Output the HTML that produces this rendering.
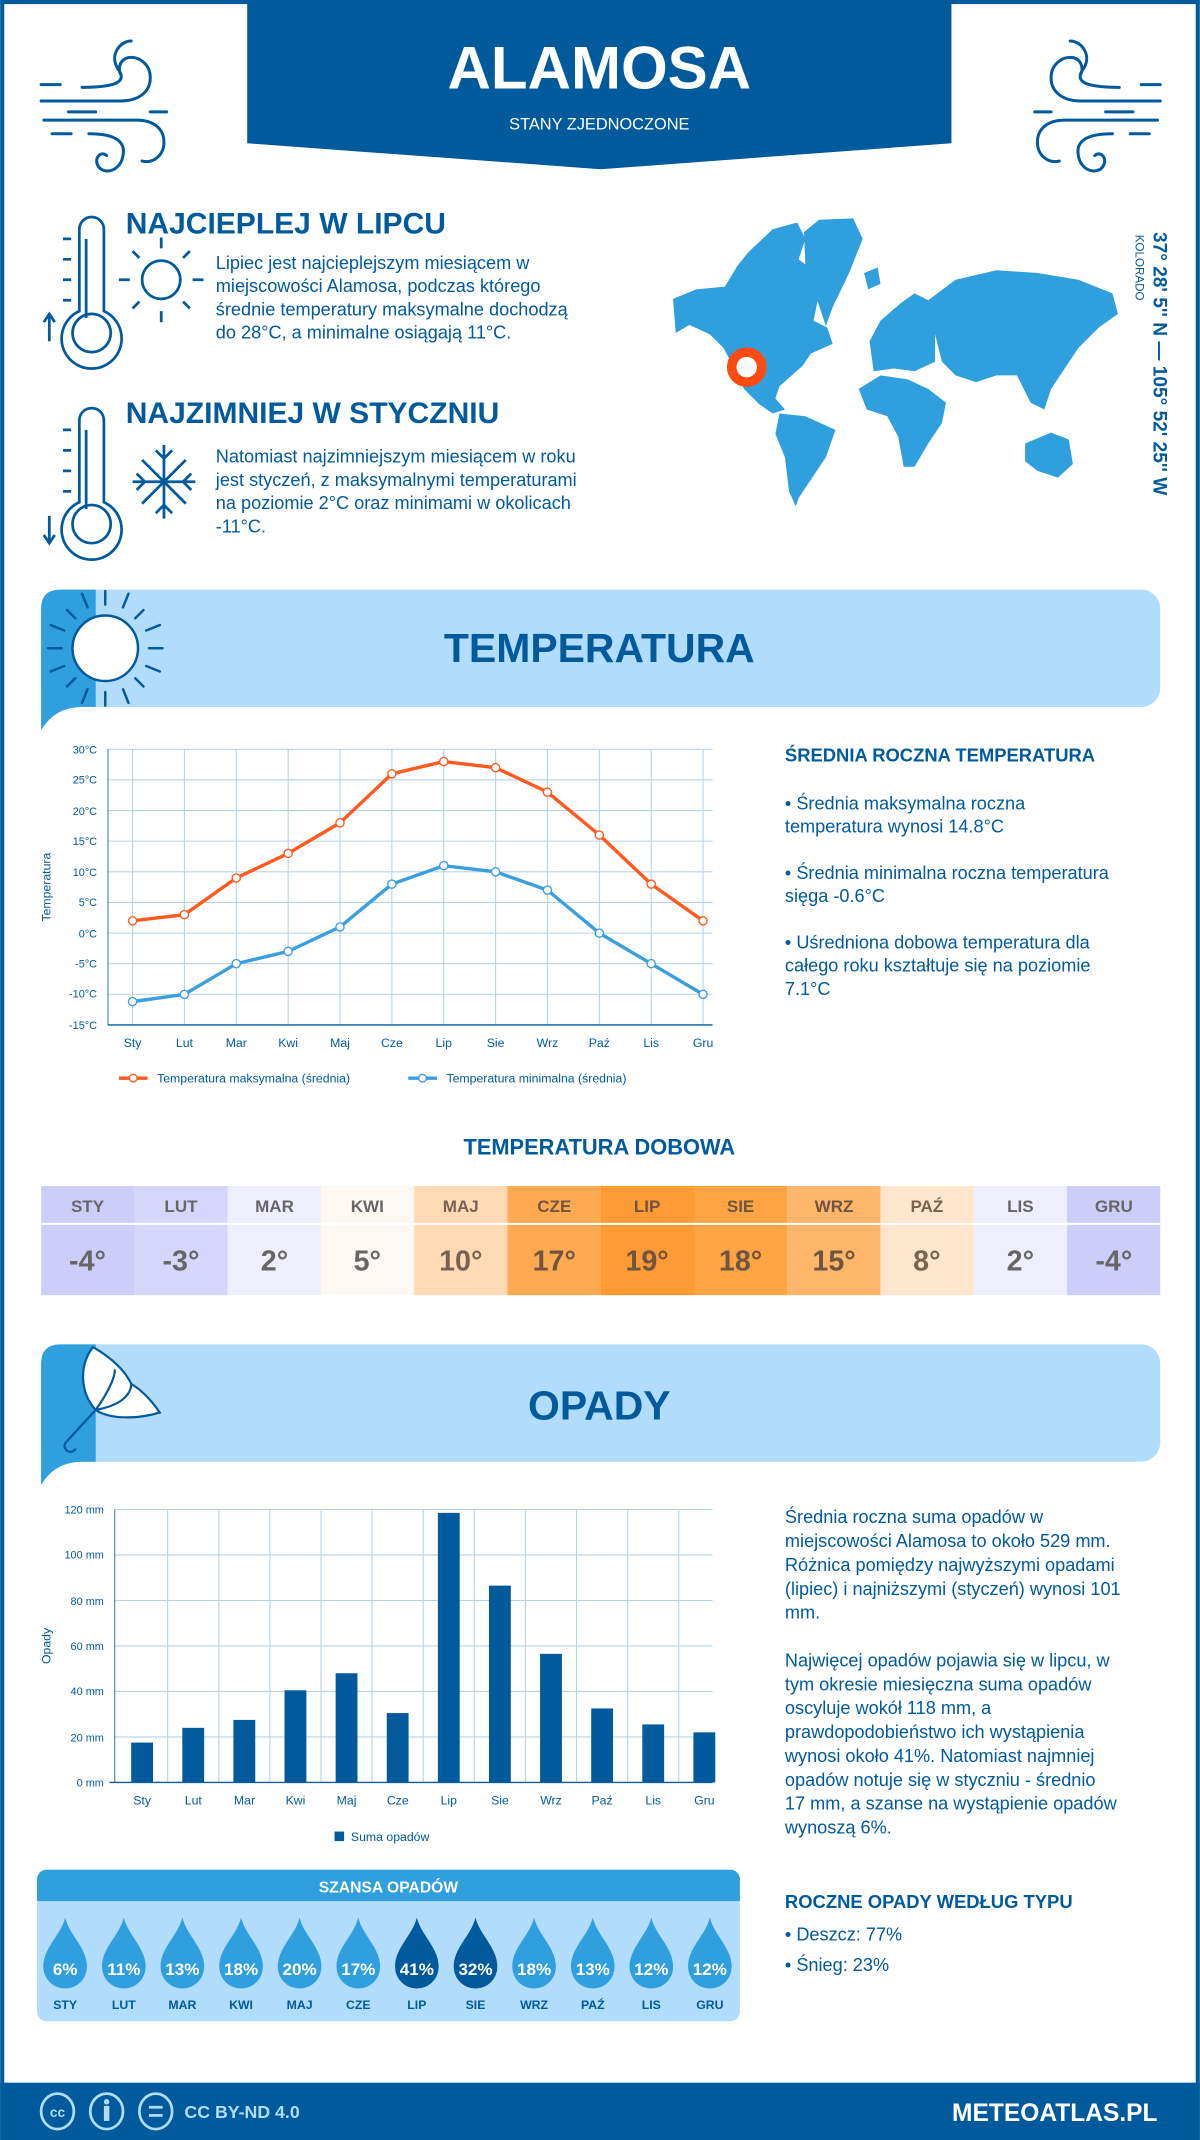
<!DOCTYPE html>
<html><head><meta charset="utf-8">
<style>
html,body{margin:0;padding:0;background:#fff;}
svg{display:block;}
text{font-family:"Liberation Sans","DejaVu Sans",sans-serif;}
.db{fill:#005a9c;}
.t{fill:#005a9c;font-size:13.3px;}
.h{fill:#005a9c;font-weight:bold;}
.ax{fill:#005a9c;font-size:8px;}
.ml{fill:#005a9c;font-size:9px;text-anchor:middle;}
.th{font-size:12.5px;font-weight:bold;text-anchor:middle;}
.tv{font-size:21px;font-weight:bold;text-anchor:middle;}
.dp{fill:#fff;font-size:12.5px;font-weight:bold;text-anchor:middle;}
.dl{fill:#005a9c;font-size:9px;font-weight:bold;text-anchor:middle;}
</style></head>
<body>
<svg width="1200" height="2140" viewBox="0 0 879 1568" xmlns="http://www.w3.org/2000/svg">
<defs>
<path id="drop" d="M0 1405 C3 1418 16 1427 16 1441 A16 16 0 0 1 -16 1441 C-16 1427 -3 1418 0 1405 Z"/>
<g id="wind" fill="none" stroke="#005a9c" stroke-width="2.2" stroke-linecap="round">
<path d="M0 52 H58 C72 52 80 45 80 35 C80 25 72 20 66 20 C58 20 56 28 58 32"/>
<path d="M30 42 C60 42 62 36 56 28 C50 18 58 8 66 8"/>
<path d="M2 66 H70 C82 66 90 72 90 82 C90 92 82 98 74 96"/>
<path d="M35 76 C55 76 62 82 60 92 C58 104 46 106 42 100 C38 94 44 88 48 92"/>
<path d="M0 40 H14 M20 60 H40 M8 76 H22 M80 60 H92"/>
</g>
</defs>
<rect x="0" y="0" width="879" height="1568" fill="#fff"/>
<rect x="0" y="0" width="3" height="1568" fill="#005a9c"/>
<rect x="876" y="0" width="3" height="1568" fill="#005a9c"/>
<rect x="0" y="0" width="879" height="3" fill="#005a9c"/>

<!-- header -->
<polygon points="181,0 697,0 697,105 440,124 181,105" fill="#005a9c"/>
<text x="439" y="65" fill="#fff" font-size="44" font-weight="bold" text-anchor="middle">ALAMOSA</text>
<text x="439" y="95" fill="#fff" font-size="12" text-anchor="middle">STANY ZJEDNOCZONE</text>
<use href="#wind" x="30" y="22"/>
<g transform="translate(850,22) scale(-1,1)"><use href="#wind"/></g>

<!-- thermometer icons -->
<g fill="none" stroke="#005a9c" stroke-width="2">
<path d="M58 168 a9 9 0 0 1 18 0 v60 a22 22 0 1 1 -18 0 z"/>
<circle cx="67" cy="244" r="14"/>
<path d="M63 175 v58"/>
<path d="M46 175h6 M46 190h6 M46 205h6 M46 220h6 M36 250 v-20 M32 236 l4 -6 4 6"/>
<circle cx="118" cy="205" r="14"/>
<path d="M118 182v-8 M118 228v8 M95 205h-8 M141 205h8 M102 189l-5-5 M134 189l5-5 M102 221l-5 5 M134 221l5 5"/>
<path d="M58 308 a9 9 0 0 1 18 0 v60 a22 22 0 1 1 -18 0 z"/>
<circle cx="67" cy="384" r="14"/>
<path d="M63 315 v58"/>
<path d="M46 315h6 M46 330h6 M46 345h6 M46 360h6 M36 378 v20 M32 392 l4 6 4 -6"/>
<path d="M120 326v54 M97 353h46 M104 337l32 32 M136 337l-32 32 M114 330l6 6 6-6 M114 376l6-6 6 6 M100 347l6 6-6 6 M140 347l-6 6 6 6"/>
</g>
<text x="92" y="171" class="h" font-size="22">NAJCIEPLEJ W LIPCU</text>
<text class="t"><tspan x="158" y="197">Lipiec jest najcieplejszym miesiącem w</tspan><tspan x="158" y="214">miejscowości Alamosa, podczas którego</tspan><tspan x="158" y="231">średnie temperatury maksymalne dochodzą</tspan><tspan x="158" y="248">do 28°C, a minimalne osiągają 11°C.</tspan></text>
<text x="92" y="310" class="h" font-size="22">NAJZIMNIEJ W STYCZNIU</text>
<text class="t"><tspan x="158" y="339">Natomiast najzimniejszym miesiącem w roku</tspan><tspan x="158" y="356">jest styczeń, z maksymalnymi temperaturami</tspan><tspan x="158" y="373">na poziomie 2°C oraz minimami w okolicach</tspan><tspan x="158" y="390">-11°C.</tspan></text>

<!-- world map -->
<g fill="#2f9fde">
<path d="M493,219 L510,212 L531,210 L540,195 L548,185 L566,168 L584,163 L590,175 L585,190 L598,200 L600,215 L596,235 L606,240 L610,252 L594,259 L588,268 L571,283 L568,292 L575,300 L566,303 L556,296 L545,285 L538,270 L530,255 L520,245 L505,238 L495,244 Z"/>
<path d="M589,170 L600,161 L625,160 L632,175 L622,200 L610,225 L605,239 L597,215 L590,195 Z"/>
<path d="M571,303 L590,305 L612,315 L605,335 L595,350 L585,365 L583,371 L578,360 L575,335 L568,318 Z"/>
<path d="M637,250 L645,235 L660,222 L670,215 L680,220 L685,240 L685,265 L670,272 L655,270 L640,272 Z"/>
<path d="M629,285 L645,275 L665,278 L680,285 L693,295 L690,310 L680,325 L670,342 L662,342 L658,320 L650,305 L635,300 Z"/>
<path d="M680,220 L700,205 L730,198 L760,200 L790,205 L815,215 L819,230 L805,240 L790,255 L780,270 L770,285 L765,300 L755,295 L745,275 L730,275 L715,280 L700,275 L690,265 L685,245 Z"/>
<path d="M751,325 L770,317 L783,322 L786,340 L775,350 L760,345 L751,338 Z"/>
<path d="M633,200 L643,196 L645,208 L636,212 Z"/>
</g>
<circle cx="547" cy="269" r="11" fill="#fff" stroke="#ff4a12" stroke-width="7"/>
<text transform="translate(845,170) rotate(90)" class="h" font-size="14">37° 28' 5'' N — 105° 52' 25'' W</text>
<text transform="translate(832,172) rotate(90)" fill="#005a9c" font-size="8.5">KOLORADO</text>

<!-- temperatura banner -->
<rect x="30" y="432" width="820" height="86" rx="14" fill="#b2dcfc"/>
<path d="M44 432 H70 V518 H60 Q40 518 30 535 V446 Q30 432 44 432 Z" fill="#2f9fde"/>
<g fill="none" stroke="#005a9c" stroke-width="1.8" stroke-linecap="round">
<circle cx="77" cy="475" r="24" fill="#fff"/>
<path d="M77 443v-10 M77 507v10 M45 475h-10 M109 475h10 M55 453l-6-6 M99 453l6-6 M55 497l-6 6 M99 497l6 6 M64 445l-4-10 M90 445l4-10 M64 505l-4 10 M90 505l4 10 M47 462l-10-4 M107 462l10-4 M47 488l-10 4 M107 488l10 4"/>
</g>
<text x="439" y="485" text-anchor="middle" class="h" font-size="30">TEMPERATURA</text>

<!-- temp chart -->
<g stroke="#b9d3e6" stroke-width="0.8">
<line x1="79" y1="549" x2="522" y2="549"/><line x1="79" y1="571.4" x2="522" y2="571.4"/><line x1="79" y1="593.9" x2="522" y2="593.9"/><line x1="79" y1="616.3" x2="522" y2="616.3"/><line x1="79" y1="638.8" x2="522" y2="638.8"/><line x1="79" y1="661.2" x2="522" y2="661.2"/><line x1="79" y1="683.7" x2="522" y2="683.7"/><line x1="79" y1="706.1" x2="522" y2="706.1"/><line x1="79" y1="728.6" x2="522" y2="728.6"/>
<line x1="97" y1="549" x2="97" y2="751"/><line x1="135" y1="549" x2="135" y2="751"/><line x1="173" y1="549" x2="173" y2="751"/><line x1="211" y1="549" x2="211" y2="751"/><line x1="249" y1="549" x2="249" y2="751"/><line x1="287" y1="549" x2="287" y2="751"/><line x1="325" y1="549" x2="325" y2="751"/><line x1="363" y1="549" x2="363" y2="751"/><line x1="401" y1="549" x2="401" y2="751"/><line x1="439" y1="549" x2="439" y2="751"/><line x1="477" y1="549" x2="477" y2="751"/><line x1="515" y1="549" x2="515" y2="751"/>
</g>
<line x1="79" y1="751" x2="522" y2="751" stroke="#005a9c" stroke-width="1"/>
<line x1="79" y1="549" x2="79" y2="751" stroke="#005a9c" stroke-width="0.6"/>
<g class="ax" text-anchor="end">
<text x="71" y="552">30°C</text><text x="71" y="574">25°C</text><text x="71" y="597">20°C</text><text x="71" y="619">15°C</text><text x="71" y="642">10°C</text><text x="71" y="664">5°C</text><text x="71" y="687">0°C</text><text x="71" y="709">-5°C</text><text x="71" y="731">-10°C</text><text x="71" y="754">-15°C</text>
</g>
<text transform="translate(37,650) rotate(-90)" text-anchor="middle" fill="#005a9c" font-size="9">Temperatura</text>
<g class="ml"><text x="97" y="767">Sty</text><text x="135" y="767">Lut</text><text x="173" y="767">Mar</text><text x="211" y="767">Kwi</text><text x="249" y="767">Maj</text><text x="287" y="767">Cze</text><text x="325" y="767">Lip</text><text x="363" y="767">Sie</text><text x="401" y="767">Wrz</text><text x="439" y="767">Paź</text><text x="477" y="767">Lis</text><text x="515" y="767">Gru</text></g>
<polyline fill="none" stroke="#ff5a1f" stroke-width="2.5" points="97,674.7 135,670.2 173,643.3 211,625.3 249,602.9 287,567 325,558 363,562.5 401,580.4 439,611.8 477,647.8 515,674.7"/>
<polyline fill="none" stroke="#3a9fdf" stroke-width="2.5" points="97,733.9 135,728.6 173,706.1 211,697.1 249,679.2 287,647.8 325,634.3 363,638.8 401,652.2 439,683.7 477,706.1 515,728.6"/>
<g fill="#fff" stroke="#ff5a1f" stroke-width="1"><circle cx="97" cy="674.7" r="3"/><circle cx="135" cy="670.2" r="3"/><circle cx="173" cy="643.3" r="3"/><circle cx="211" cy="625.3" r="3"/><circle cx="249" cy="602.9" r="3"/><circle cx="287" cy="567" r="3"/><circle cx="325" cy="558" r="3"/><circle cx="363" cy="562.5" r="3"/><circle cx="401" cy="580.4" r="3"/><circle cx="439" cy="611.8" r="3"/><circle cx="477" cy="647.8" r="3"/><circle cx="515" cy="674.7" r="3"/></g>
<g fill="#fff" stroke="#3a9fdf" stroke-width="1"><circle cx="97" cy="733.9" r="3"/><circle cx="135" cy="728.6" r="3"/><circle cx="173" cy="706.1" r="3"/><circle cx="211" cy="697.1" r="3"/><circle cx="249" cy="679.2" r="3"/><circle cx="287" cy="647.8" r="3"/><circle cx="325" cy="634.3" r="3"/><circle cx="363" cy="638.8" r="3"/><circle cx="401" cy="652.2" r="3"/><circle cx="439" cy="683.7" r="3"/><circle cx="477" cy="706.1" r="3"/><circle cx="515" cy="728.6" r="3"/></g>
<line x1="87" y1="790" x2="108" y2="790" stroke="#ff5a1f" stroke-width="2.5"/><circle cx="97.5" cy="790" r="2.8" fill="#fff" stroke="#ff5a1f"/>
<text x="115" y="793" fill="#005a9c" font-size="9">Temperatura maksymalna (średnia)</text>
<line x1="299" y1="790" x2="320" y2="790" stroke="#3a9fdf" stroke-width="2.5"/><circle cx="309.5" cy="790" r="2.8" fill="#fff" stroke="#3a9fdf"/>
<text x="327" y="793" fill="#005a9c" font-size="9">Temperatura minimalna (średnia)</text>

<text x="575" y="558" class="h" font-size="13.5">ŚREDNIA ROCZNA TEMPERATURA</text>
<text class="t"><tspan x="575" y="593">• Średnia maksymalna roczna</tspan><tspan x="575" y="610">temperatura wynosi 14.8°C</tspan><tspan x="575" y="644">• Średnia minimalna roczna temperatura</tspan><tspan x="575" y="661">sięga -0.6°C</tspan><tspan x="575" y="695">• Uśredniona dobowa temperatura dla</tspan><tspan x="575" y="712">całego roku kształtuje się na poziomie</tspan><tspan x="575" y="729">7.1°C</tspan></text>

<text x="439" y="846" text-anchor="middle" class="h" font-size="16">TEMPERATURA DOBOWA</text>
<!-- table -->
<g>
<rect x="30" y="869" width="68.4" height="80" fill="#cdcdfa"/>
<rect x="98.3" y="869" width="68.4" height="80" fill="#d6d6fc"/>
<rect x="166.7" y="869" width="68.4" height="80" fill="#eeeeff"/>
<rect x="235" y="869" width="68.4" height="80" fill="#fdf8f2"/>
<rect x="303.3" y="869" width="68.4" height="80" fill="#ffdab4"/>
<rect x="371.7" y="869" width="68.4" height="80" fill="#ffaa50"/>
<rect x="440" y="869" width="68.4" height="80" fill="#ff9a35"/>
<rect x="508.3" y="869" width="68.4" height="80" fill="#ffa445"/>
<rect x="576.7" y="869" width="68.4" height="80" fill="#ffb66b"/>
<rect x="645" y="869" width="68.4" height="80" fill="#ffe6cd"/>
<rect x="713.3" y="869" width="68.4" height="80" fill="#eeeeff"/>
<rect x="781.7" y="869" width="68.3" height="80" fill="#cdcdfa"/>
<rect x="30" y="896" width="820" height="1.5" fill="#fff"/>
</g>
<g class="th" fill="#666"><text x="64" y="888">STY</text><text x="132.5" y="888">LUT</text><text x="201" y="888">MAR</text><text x="269" y="888">KWI</text><text x="337.5" y="888" fill="#7a6250">MAJ</text><text x="406" y="888" fill="#6e5540">CZE</text><text x="474" y="888" fill="#6e5540">LIP</text><text x="542.5" y="888" fill="#6e5540">SIE</text><text x="611" y="888" fill="#6e5540">WRZ</text><text x="679" y="888" fill="#7a6250">PAŹ</text><text x="747.5" y="888">LIS</text><text x="816" y="888">GRU</text></g>
<g class="tv" fill="#666"><text x="64" y="931">-4°</text><text x="132.5" y="931">-3°</text><text x="201" y="931">2°</text><text x="269" y="931">5°</text><text x="337.5" y="931" fill="#7a6250">10°</text><text x="406" y="931" fill="#6e5540">17°</text><text x="474" y="931" fill="#6e5540">19°</text><text x="542.5" y="931" fill="#6e5540">18°</text><text x="611" y="931" fill="#6e5540">15°</text><text x="679" y="931" fill="#7a6250">8°</text><text x="747.5" y="931">2°</text><text x="816" y="931">-4°</text></g>

<!-- opady banner -->
<rect x="30" y="985" width="820" height="86" rx="14" fill="#b2dcfc"/>
<path d="M44 985 H70 V1071 H60 Q40 1071 30 1088 V999 Q30 985 44 985 Z" fill="#2f9fde"/>
<g fill="none" stroke="#005a9c" stroke-width="1.6" stroke-linecap="round">
<path d="M68 987 C58 1000 58 1020 70 1033 C80 1040 100 1040 117 1035 C110 1025 103 1018 96 1014 C92 1005 82 995 68 987 Z" fill="#fff"/>
<path d="M70 1033 L48 1057 A4 4 0 0 0 55 1062"/>
<path d="M70 1033 C78 1022 84 1010 84 1004 M70 1033 C88 1030 96 1022 96 1014"/>
</g>
<text x="439" y="1040" text-anchor="middle" class="h" font-size="30">OPADY</text>

<!-- bar chart -->
<g stroke="#b9d3e6" stroke-width="0.8">
<line x1="84" y1="1106" x2="522" y2="1106"/><line x1="84" y1="1139.3" x2="522" y2="1139.3"/><line x1="84" y1="1172.7" x2="522" y2="1172.7"/><line x1="84" y1="1206" x2="522" y2="1206"/><line x1="84" y1="1239.3" x2="522" y2="1239.3"/><line x1="84" y1="1272.7" x2="522" y2="1272.7"/>
<line x1="122.7" y1="1106" x2="122.7" y2="1306"/><line x1="160.2" y1="1106" x2="160.2" y2="1306"/><line x1="197.6" y1="1106" x2="197.6" y2="1306"/><line x1="235.1" y1="1106" x2="235.1" y2="1306"/><line x1="272.5" y1="1106" x2="272.5" y2="1306"/><line x1="310" y1="1106" x2="310" y2="1306"/><line x1="347.4" y1="1106" x2="347.4" y2="1306"/><line x1="384.9" y1="1106" x2="384.9" y2="1306"/><line x1="422.3" y1="1106" x2="422.3" y2="1306"/><line x1="459.8" y1="1106" x2="459.8" y2="1306"/><line x1="497.2" y1="1106" x2="497.2" y2="1306"/>
</g>
<line x1="84" y1="1106" x2="84" y2="1306" stroke="#005a9c" stroke-width="0.6"/>
<g fill="#005a9c">
<rect x="96" y="1276.8" width="16" height="29.2"/>
<rect x="133.45" y="1266" width="16" height="40"/>
<rect x="170.9" y="1260.2" width="16" height="45.8"/>
<rect x="208.35" y="1238.5" width="16" height="67.5"/>
<rect x="245.8" y="1226" width="16" height="80"/>
<rect x="283.25" y="1255.2" width="16" height="50.8"/>
<rect x="320.7" y="1108.5" width="16" height="197.5"/>
<rect x="358.15" y="1161.8" width="16" height="144.2"/>
<rect x="395.6" y="1211.8" width="16" height="94.2"/>
<rect x="433.05" y="1251.8" width="16" height="54.2"/>
<rect x="470.5" y="1263.5" width="16" height="42.5"/>
<rect x="507.95" y="1269.3" width="16" height="36.7"/>
</g>
<line x1="80" y1="1306" x2="522" y2="1306" stroke="#005a9c" stroke-width="1"/>
<g class="ax" text-anchor="end">
<text x="76" y="1109">120 mm</text><text x="76" y="1142">100 mm</text><text x="76" y="1176">80 mm</text><text x="76" y="1209">60 mm</text><text x="76" y="1242">40 mm</text><text x="76" y="1276">20 mm</text><text x="76" y="1309">0 mm</text>
</g>
<text transform="translate(37,1206) rotate(-90)" text-anchor="middle" fill="#005a9c" font-size="9">Opady</text>
<g class="ml"><text x="104" y="1322">Sty</text><text x="141.5" y="1322">Lut</text><text x="179" y="1322">Mar</text><text x="216.4" y="1322">Kwi</text><text x="253.8" y="1322">Maj</text><text x="291.3" y="1322">Cze</text><text x="328.7" y="1322">Lip</text><text x="366.2" y="1322">Sie</text><text x="403.6" y="1322">Wrz</text><text x="441" y="1322">Paź</text><text x="478.5" y="1322">Lis</text><text x="516" y="1322">Gru</text></g>
<rect x="245" y="1342" width="7" height="7" fill="#005a9c"/>
<text x="257" y="1349" fill="#005a9c" font-size="9">Suma opadów</text>

<text class="t"><tspan x="575" y="1116">Średnia roczna suma opadów w</tspan><tspan x="575" y="1133.5">miejscowości Alamosa to około 529 mm.</tspan><tspan x="575" y="1151">Różnica pomiędzy najwyższymi opadami</tspan><tspan x="575" y="1168.5">(lipiec) i najniższymi (styczeń) wynosi 101</tspan><tspan x="575" y="1186">mm.</tspan><tspan x="575" y="1221">Najwięcej opadów pojawia się w lipcu, w</tspan><tspan x="575" y="1238.5">tym okresie miesięczna suma opadów</tspan><tspan x="575" y="1256">oscyluje wokół 118 mm, a</tspan><tspan x="575" y="1273.5">prawdopodobieństwo ich wystąpienia</tspan><tspan x="575" y="1291">wynosi około 41%. Natomiast najmniej</tspan><tspan x="575" y="1308.5">opadów notuje się w styczniu - średnio</tspan><tspan x="575" y="1326">17 mm, a szanse na wystąpienie opadów</tspan><tspan x="575" y="1343.5">wynoszą 6%.</tspan></text>

<!-- szansa opadow -->
<rect x="27" y="1370" width="515" height="111" rx="7" fill="#b2dcfc"/>
<path d="M34 1370 H535 A7 7 0 0 1 542 1377 V1393 H27 V1377 A7 7 0 0 1 34 1370 Z" fill="#2f9fde"/>
<text x="284.5" y="1386.5" fill="#fff" font-size="11.5" font-weight="bold" text-anchor="middle">SZANSA OPADÓW</text>
<g fill="#2f9fde">
<use href="#drop" x="47.6"/><use href="#drop" x="90.6"/><use href="#drop" x="133.5"/><use href="#drop" x="176.5"/><use href="#drop" x="219.4"/><use href="#drop" x="262.4"/>
<use href="#drop" x="391.2"/><use href="#drop" x="434.2"/><use href="#drop" x="477.1"/><use href="#drop" x="520"/>
</g>
<g fill="#005a9c"><use href="#drop" x="305.3"/><use href="#drop" x="348.3"/></g>
<g class="dp"><text x="47.6" y="1447">6%</text><text x="90.6" y="1447">11%</text><text x="133.5" y="1447">13%</text><text x="176.5" y="1447">18%</text><text x="219.4" y="1447">20%</text><text x="262.4" y="1447">17%</text><text x="305.3" y="1447">41%</text><text x="348.3" y="1447">32%</text><text x="391.2" y="1447">18%</text><text x="434.2" y="1447">13%</text><text x="477.1" y="1447">12%</text><text x="520" y="1447">12%</text></g>
<g class="dl"><text x="47.6" y="1472">STY</text><text x="90.6" y="1472">LUT</text><text x="133.5" y="1472">MAR</text><text x="176.5" y="1472">KWI</text><text x="219.4" y="1472">MAJ</text><text x="262.4" y="1472">CZE</text><text x="305.3" y="1472">LIP</text><text x="348.3" y="1472">SIE</text><text x="391.2" y="1472">WRZ</text><text x="434.2" y="1472">PAŹ</text><text x="477.1" y="1472">LIS</text><text x="520" y="1472">GRU</text></g>

<text x="575" y="1398" class="h" font-size="13.5">ROCZNE OPADY WEDŁUG TYPU</text>
<text class="t"><tspan x="575" y="1422">• Deszcz: 77%</tspan><tspan x="575" y="1444">• Śnieg: 23%</tspan></text>

<!-- footer -->
<rect x="0" y="1526" width="879" height="42" fill="#005a9c"/>
<g fill="none" stroke="#b2dcfc" stroke-width="2">
<ellipse cx="42" cy="1547" rx="12" ry="13"/><ellipse cx="78" cy="1547" rx="12" ry="13"/><ellipse cx="114" cy="1547" rx="12" ry="13"/>
</g>
<text x="42" y="1551" fill="#b2dcfc" font-size="10" font-weight="bold" text-anchor="middle">cc</text>
<circle cx="78" cy="1540" r="2" fill="#b2dcfc"/><rect x="76" y="1543" width="4" height="11" fill="#b2dcfc"/>
<rect x="109" y="1543" width="10" height="2" fill="#b2dcfc"/><rect x="109" y="1549" width="10" height="2" fill="#b2dcfc"/>
<text x="135" y="1552" fill="#b2dcfc" font-size="13" font-weight="bold">CC BY-ND 4.0</text>
<text x="848" y="1554" fill="#fff" font-size="18" font-weight="bold" text-anchor="end">METEOATLAS.PL</text>
</svg>
</body></html>
